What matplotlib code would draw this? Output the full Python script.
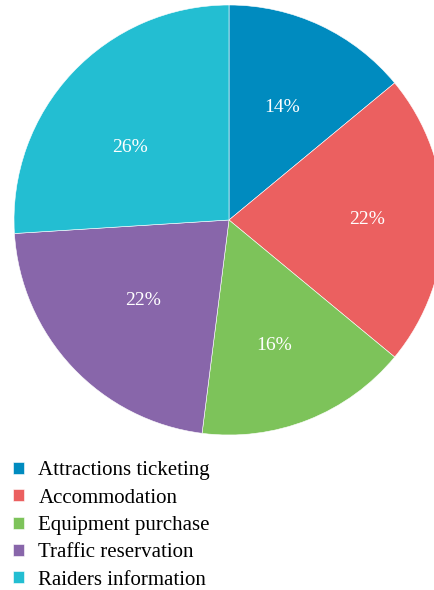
import numpy as np
import matplotlib.pyplot as plt

categories = ["Attractions ticketing", "Accommodation", "Equipment purchase",
              "Traffic reservation", "Raiders information"]
shares = [14, 22, 16, 22, 26]
colors = ["#008bbf", "#eb6060", "#7dc35a", "#8866aa", "#23bed2"]
# placement of each percentage label: fraction of radius, angle nudge (deg)
label_dist = [0.58, 0.64, 0.62, 0.55, 0.57]
label_nudge = [0, 0, -2, 0, 7]

plt.rcParams["font.family"] = ["Liberation Serif", "DejaVu Serif"]

W, H = 435, 590
fig = plt.figure(figsize=(W / 100, H / 100), dpi=100)

# pie centre and radius in pixels
cx, cy, r = 229, 220, 215
ax = fig.add_axes([(cx - r) / W, 1 - (cy + r) / H, 2 * r / W, 2 * r / H])

wedges, texts, autotexts = ax.pie(
    shares, colors=colors, startangle=90, counterclock=False, radius=1,
    autopct="%d%%", pctdistance=0.6, frame=True,
    wedgeprops=dict(edgecolor="white", linewidth=0.4),
    textprops=dict(color="white", fontsize=14),
)
for w, t, d, n in zip(wedges, autotexts, label_dist, label_nudge):
    ang = np.deg2rad((w.theta1 + w.theta2) / 2 + n)
    t.set_position((d * np.cos(ang), d * np.sin(ang)))

ax.set_xlim(-1, 1)
ax.set_ylim(-1, 1)
ax.axis("off")

fig.legend(wedges, categories, loc="upper left",
           bbox_to_anchor=(3 / W, 1 - 451 / H), frameon=False,
           fontsize=15, handlelength=0.5, handleheight=0.5,
           handletextpad=0.7, labelspacing=0.40, borderpad=0)

fig.savefig("out.png", dpi=100)
